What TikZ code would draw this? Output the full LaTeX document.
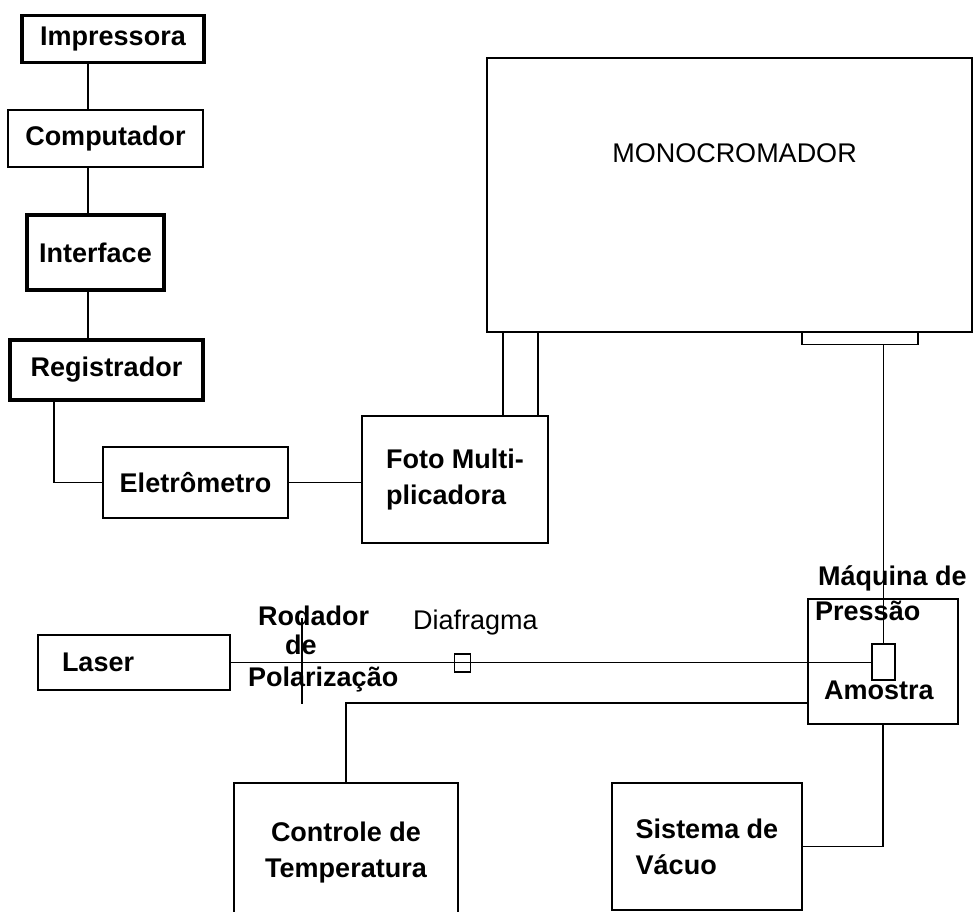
\documentclass[tikz,border=0pt]{standalone}
\usepackage{fontspec}
\setmainfont{Liberation Sans}
\usetikzlibrary{positioning,calc}

\tikzset{
  box/.style={draw, line width=1.4pt, inner sep=0pt, align=center,
    font=\fontsize{27}{36}\selectfont\bfseries},
  heavybox/.style={box, line width=3.2pt},
  wire/.style={line width=1.4pt},
  lbl/.style={inner sep=0pt, font=\fontsize{27}{36}\selectfont\bfseries},
  thinlbl/.style={inner sep=0pt, font=\fontsize{27}{36}\selectfont},
}

\begin{document}
\begin{tikzpicture}[x=1pt,y=-1pt]
                \useasboundingbox (0,0) rectangle (974,912);

                % coluna de registro
                \coordinate (colx) at (88,0);
                \node (imp) [heavybox, minimum width=182, minimum height=47] at (113,39) {Impressora};
                \node (comp) [box, line width=2.4pt, minimum width=195, minimum height=57] at (105.5,138.5) {Computador};
                \node (intf) [heavybox, minimum width=137, minimum height=75] at (95.5,252.5) {Interface};
                \node (reg) [heavybox, minimum width=193, minimum height=60] at (106.5,370) {Registrador};
                \draw [wire] (imp.south -| colx) -- (comp.north -| colx);
                \draw [wire] (comp.south -| colx) -- (intf.north -| colx);
                \draw [wire] (intf.south -| colx) -- (reg.north -| colx);

                \node (elet) [box, minimum width=185, minimum height=71] at (195.5,482.5) {Eletrômetro};
                \node (foto) [box, minimum width=186, minimum height=127, align=left] at (455,479.5) {Foto Multi-\\plicadora};
                \draw [wire] (reg.south -| 54,0) |- (elet.west);
                \draw [wire] (elet.east) -- (elet.east -| foto.west);

                % monocromador
                \node (mono) [box, minimum width=485, minimum height=274] at (729.5,195) {};
                \node (monotxt) [thinlbl] at ($(mono.north)+(5,96)$) {MONOCROMADOR};
                \node (slit) [box, minimum width=116, minimum height=12, anchor=north] at (860,332) {};
                \draw [wire] ([xshift=48pt]foto.north) -- ([xshift=48pt]foto.north |- mono.south);
                \draw [wire] ([xshift=83pt]foto.north) -- ([xshift=83pt]foto.north |- mono.south);

                % caminho do laser
                \node (laser) [box, minimum width=192, minimum height=55, text width=144, align=left] at (134,662.5) {Laser};
                \node (press) [box, minimum width=150, minimum height=125] at (883,661.5) {};
                \node (amos) [box, minimum width=23, minimum height=36] at (883.5,662) {};
                \node (diaf) [box, minimum width=16, minimum height=18] at (462.5,663) {};
                \draw [wire] (laser.east) -- (laser.east -| amos.west);
                \draw [wire] (amos.north) -- (amos.north |- slit.south);

                \coordinate (polTop) at (302,618);
                \coordinate (polBot) at (302,704);
                \draw [wire] (polTop) -- (polBot);

                \node (rod) [lbl, anchor=base west] at (258,625) {Rodador};
                \node (rodde) [lbl, anchor=base west] at (285,654) {de};
                \node (pol) [lbl, anchor=base west] at (248,686) {Polarização};
                \node (diaftxt) [thinlbl, anchor=base west] at (413,629) {Diafragma};
                \node (maq) [lbl, anchor=base west] at (818,585) {Máquina de};
                \node (presstxt) [lbl, anchor=base west] at (815,620) {Pressão};
                \node (amostxt) [lbl, anchor=base west] at (824,699) {Amostra};

                % controle e vacuo
                \node (ctrl) [box, minimum width=224, minimum height=140] at (346,853) {Controle de\\Temperatura};
                \node (vac) [box, minimum width=190, minimum height=127, align=left] at (707,846.5) {Sistema de\\Vácuo};
                \draw [wire] (press.west |- 0,703) -| (ctrl.north);
                \draw [wire] (press.south) |- (vac.east);
            \end{tikzpicture}
\end{document}
